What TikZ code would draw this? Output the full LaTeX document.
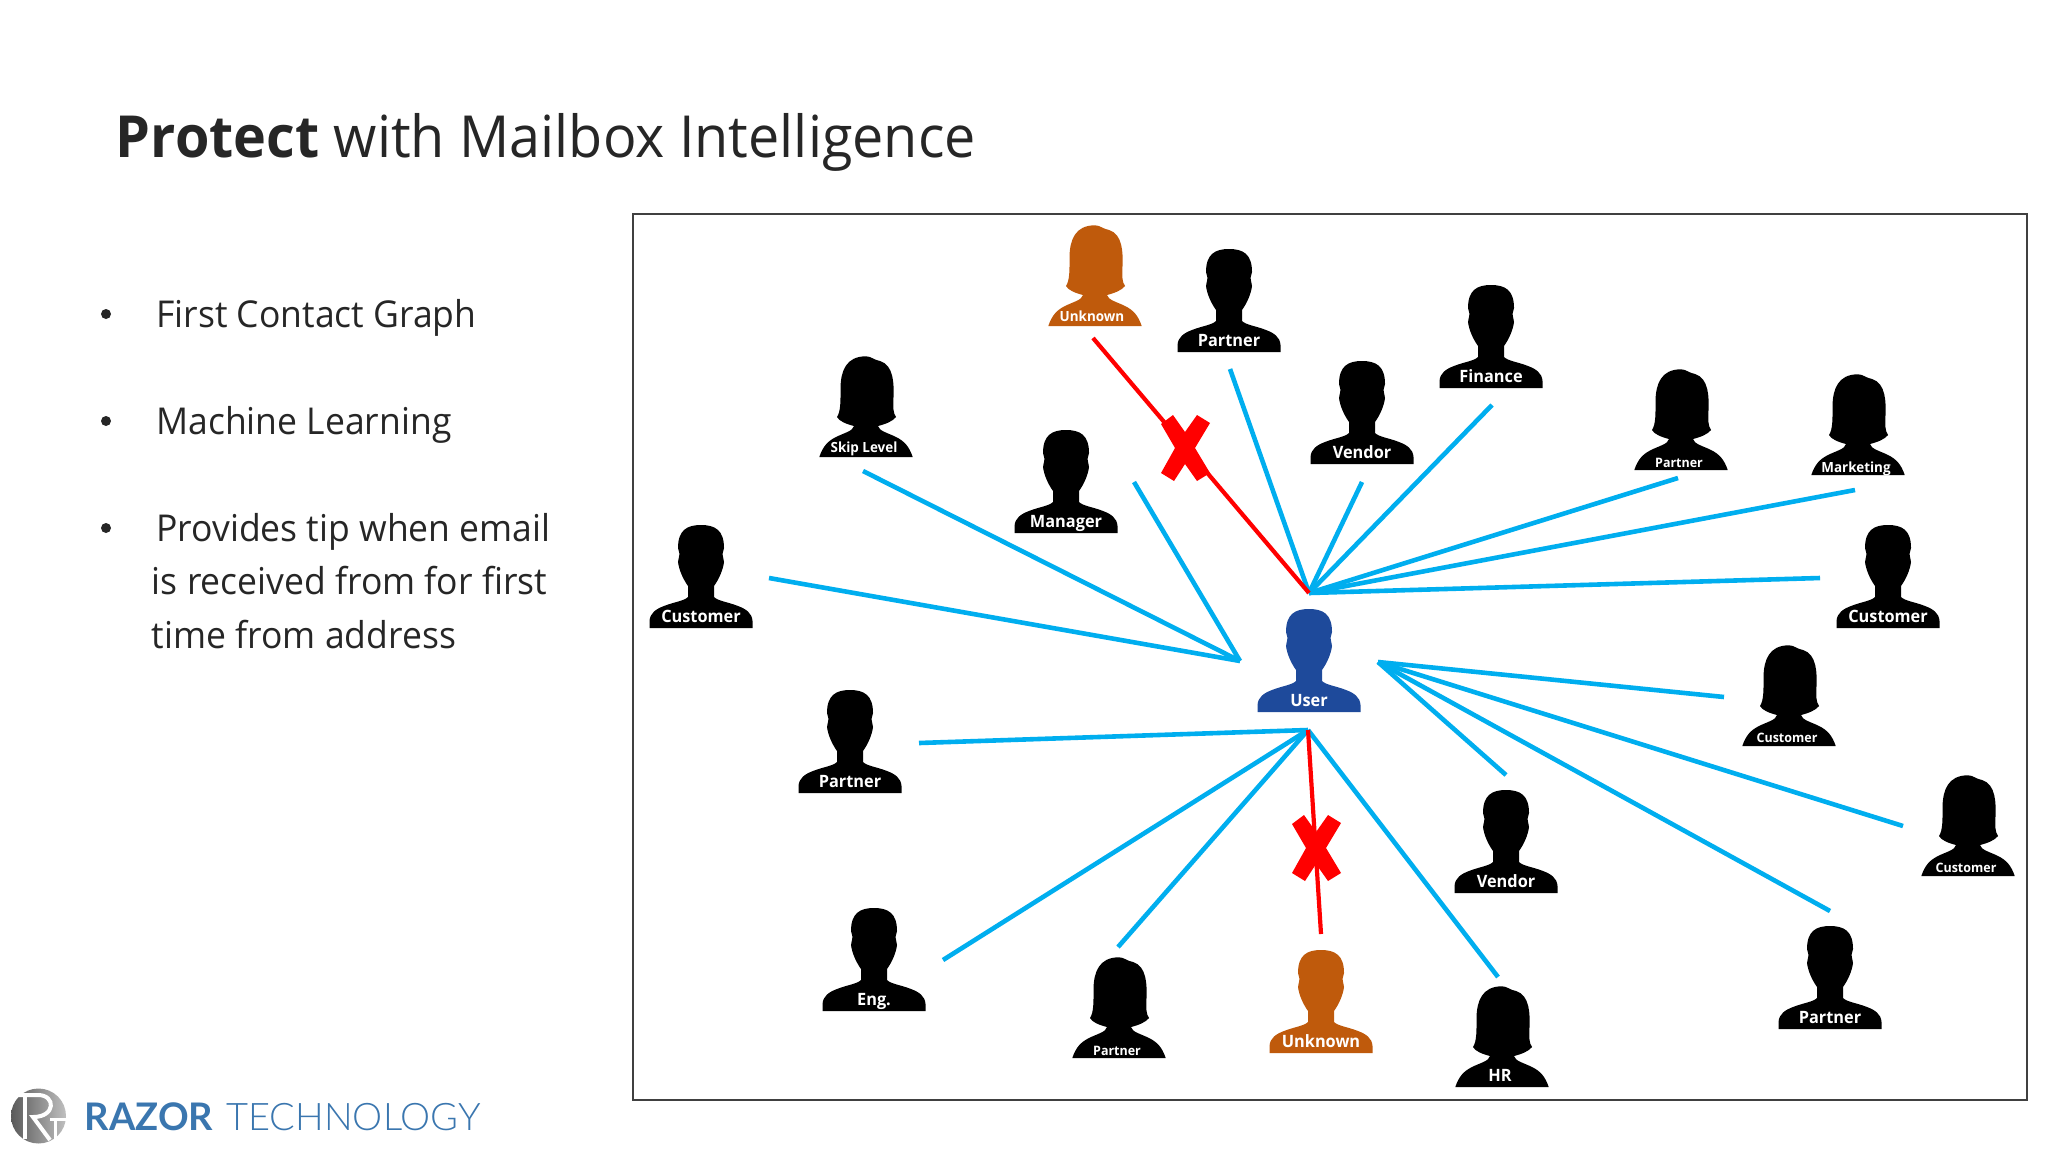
\documentclass[tikz,border=0pt]{standalone}
\usepackage{fontspec}
\setmainfont[FakeStretch=0.96]{Open Sans}
\newfontfamily\logolight{Lato Light}
\newfontfamily\logobold{Lato}
\definecolor{spokeblue}{RGB}{0,174,239}
\definecolor{unknownorange}{RGB}{191,90,12}
\definecolor{usernavy}{RGB}{30,74,155}
\definecolor{slidetext}{RGB}{38,38,38}
\definecolor{logoblue}{RGB}{58,118,175}
\tikzset{
  man/.pic={
    \fill (-51.5,0) -- (51.5,0) -- (51.5,-7) .. controls (51,-15) and (45,-19) .. (37,-22)
      .. controls (27,-26) and (17,-27) .. (13,-31) -- (13,-42)
      .. controls (18,-49) and (22,-58) .. (23,-66) -- (21.5,-74) -- (23,-80)
      .. controls (23,-98) and (14,-103) .. (0,-103)
      .. controls (-14,-103) and (-23,-98) .. (-23,-80) -- (-21.5,-74) -- (-23,-66)
      .. controls (-22,-58) and (-18,-49) .. (-13,-42) -- (-13,-31)
      .. controls (-17,-27) and (-27,-26) .. (-37,-22)
      .. controls (-45,-19) and (-51,-15) .. (-51.5,-7) -- cycle;
  },
  woman/.pic={
    \fill (-46.7,0) -- (46.7,0) .. controls (43,-11) and (38,-16) .. (30,-20)
      .. controls (22,-24) and (13,-26) .. (12,-31)
      .. controls (20,-33) and (27,-36) .. (30,-40)
      .. controls (27,-44) and (27,-50) .. (27.5,-60)
      .. controls (28,-72) and (28,-92) .. (14,-96)
      .. controls (8,-97) and (5,-100.7) .. (0,-100.7)
      .. controls (-20,-100.7) and (-25,-86) .. (-25.5,-70)
      .. controls (-25.5,-58) and (-25,-46) .. (-29,-40)
      .. controls (-27,-36) and (-20,-33) .. (-12,-31)
      .. controls (-13,-26) and (-22,-24) .. (-30,-20)
      .. controls (-38,-16) and (-43,-11) .. (-46.7,0) -- cycle;
  },
  crossmark/.pic={
    \fill[red] (-12,-33) -- (0,-16) -- (12,-33) -- (25,-25) -- (10,0) -- (25,25) -- (12,33)
      -- (0,16) -- (-11,33) -- (-24,25) -- (-10,0) -- (-24,-24) -- cycle;
  },
  personlabel/.style={anchor=base,text=white,inner sep=0pt},
  spoke/.style={draw=spokeblue,line width=2.3pt},
  cutspoke/.style={draw=red,line width=2.1pt},
  bullettext/.style={anchor=base west,inner sep=0pt,text=slidetext,font=\fontsize{18.5}{22}\selectfont},
  bulletdot/.style={circle,fill=slidetext,minimum size=5pt,inner sep=0pt}
}
\begin{document}
\begin{tikzpicture}[x=0.5pt,y=-0.5pt]
  \useasboundingbox (0,0) rectangle (2048,1152);
  \fill[white] (0,0) rectangle (2048,1152);

  \node[anchor=base west,inner sep=0pt,text=slidetext,font=\fontsize{29}{34}\selectfont] (title) at (115.5,157)
    {\textbf{Protect} with Mailbox Intelligence};

  \node[bulletdot] (dotA) at (106,314) {};
  \node[bulletdot] (dotB) at (106,421) {};
  \node[bulletdot] (dotC) at (106,528) {};
  \node[bullettext] (firstcontact) at (156,327) {First Contact Graph};
  \node[bullettext] (machine) at (156,434) {Machine Learning};
  \node[bullettext] (provides) at (156,541) {Provides tip when email};
  \node[bullettext] (received) at (151.5,594) {is received from for first};
  \node[bullettext] (timefrom) at (151.5,648) {time from address};

  \draw[draw=black!75,line width=1.1pt] (633,214) rectangle (2027,1100);

  % people
  \foreach \who/\x/\y/\sz/\txt in {partnerA/1229/352/8.5/Partner,financeA/1491/388/8.5/Finance,
      vendorA/1362/464/8.5/Vendor,customerA/1888/628/8.5/Customer,vendorB/1506/893/8.5/Vendor,
      partnerB/1830/1029/8.5/Partner,engA/874/1011/8.5/Eng.,partnerC/850/793/8.5/Partner,
      customerB/701/628/8.5/Customer,managerA/1066/533/8.5/Manager}{
    \pic[black] at (\x,\y) {man};
    \node[personlabel,font=\fontsize{\sz}{\sz}\bfseries\selectfont] (\who) at (\x,\y-5.5) {\txt};
  }
  \foreach \who/\x/\y/\ly/\sz/\txt in {partnerD/1681/470/467/6.5/Partner,marketingA/1858/475/472.5/7/Marketing,
      customerC/1789/746/742.5/6.5/Customer,customerD/1968/876/872.5/6.5/Customer,hrA/1502/1087/1081/8.5/HR,
      partnerE/1119/1058/1055/6.5/Partner,skiplevelA/866/457/452/7/Skip Level}{
    \pic[black] at (\x,\y) {woman};
    \node[personlabel,font=\fontsize{\sz}{\sz}\bfseries\selectfont] (\who) at (\x-2,\ly) {\txt};
  }
  \pic[usernavy] at (1309,712) {man};
  \node[personlabel,font=\fontsize{8.5}{8.5}\bfseries\selectfont] (user) at (1309,706.5) {User};
  \pic[unknownorange] at (1095,326) {woman};
  \node[personlabel,font=\fontsize{7}{7}\bfseries\selectfont] (unknownA) at (1092,321) {Unknown};
  \pic[unknownorange] at (1321,1053) {man};
  \node[personlabel,font=\fontsize{8.5}{8.5}\bfseries\selectfont] (unknownB) at (1321,1047.5) {Unknown};

  % hubs around the user
  \coordinate (hubN) at (1309,593);
  \coordinate (hubW) at (1240,661);
  \coordinate (hubE) at (1378,662);
  \coordinate (hubS) at (1308,730);

  % free ends of the spokes
  \foreach \n/\ex/\ey in {endPartnerA/1230/369,endVendorA/1362/482,endFinance/1492/405,
      endPartnerD/1678/478,endMarketing/1855/490,endCustomerA/1820/578,
      endCustomerC/1724/697,endCustomerD/1903/826,endVendorB/1506/775,endPartnerB/1830/911,
      endHR/1498/977,endPartnerE/1118/947,endEng/943/960,endPartnerC/919/743,
      endManager/1134/482,endSkip/863/471,endCustomerB/769/578,
      endUnknownA/1093/338,endUnknownB/1321/934}
    \coordinate (\n) at (\ex,\ey);

  \foreach \from/\to in {hubN/endPartnerA,hubN/endVendorA,hubN/endFinance,hubN/endPartnerD,
      hubN/endMarketing,hubN/endCustomerA,hubE/endCustomerC,hubE/endCustomerD,hubE/endVendorB,
      hubE/endPartnerB,hubS/endHR,hubS/endPartnerE,hubS/endEng,hubS/endPartnerC,
      hubW/endManager,hubW/endSkip,hubW/endCustomerB}
    \draw[spoke] (\from) -- (\to);

  \draw[cutspoke] (hubN) -- (endUnknownA);
  \draw[cutspoke] (hubS) -- (endUnknownB);
  \pic at (1185,448) {crossmark};
  \pic at (1316,848) {crossmark};

  % logo
  \shade[left color=black!65,middle color=black!85,right color=black!25] (38.5,1116) circle (27.5);
  \draw[white,line width=2pt] (25,1095) -- (25,1139);
  \draw[white,line width=2pt] (18,1095) -- (38,1095) .. controls (56,1095) and (56,1117) .. (33,1117) -- (50,1140);
  \draw[white,line width=1.5pt] (50,1119) -- (68,1119) (55,1119) -- (55,1140);
  \node[anchor=base west,inner sep=0pt,text=logoblue,font=\logobold\bfseries\fontsize{19}{22}\selectfont] (razor) at (84.5,1130) {RAZOR};
  \node[anchor=base west,inner sep=0pt,text=logoblue,font=\logolight\fontsize{19}{22}\selectfont] (technology) at (226,1130) {TECHNOLOGY};
\end{tikzpicture}
\end{document}
